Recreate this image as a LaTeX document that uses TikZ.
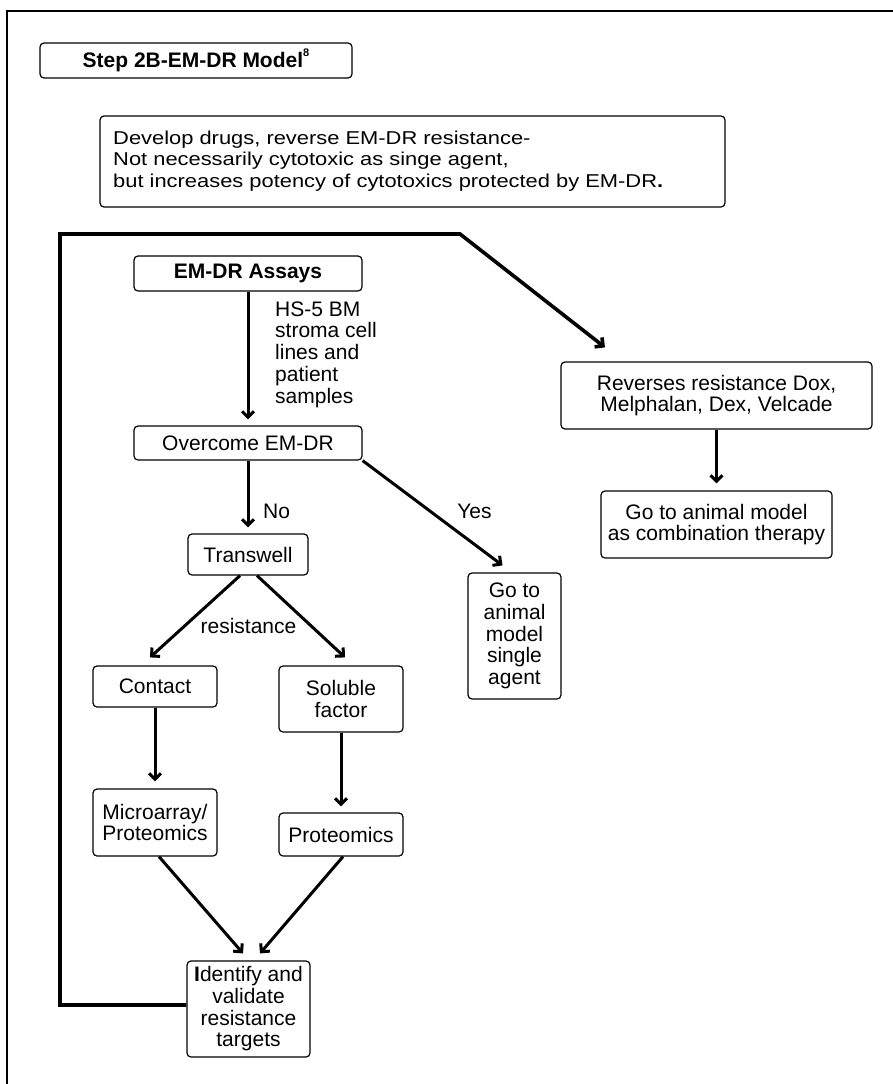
\documentclass[tikz,border=0pt]{standalone}
\usepackage{fontspec}
\usepackage{graphicx}
\setmainfont{Liberation Sans}
\usetikzlibrary{arrows.meta}
\newcommand{\boxfont}{\fontsize{21}{21.7}\selectfont}
\begin{document}
\begin{tikzpicture}[x=1pt,y=-1pt,
        box/.style={draw, rounded corners=4pt, line width=1.2pt, align=center, inner sep=0pt, font=\boxfont},
        arr/.style={line width=3pt, -{Straight Barb[length=6pt,width=12pt]}},
        lbl/.style={inner sep=0pt, align=left, font=\boxfont}]
        \useasboundingbox (0,0) rectangle (893,1084);
        \draw[line width=2pt] (7,1084) -- (7,11) -- (893,11);
        \node[box, minimum width=312pt, minimum height=35pt, font={\boxfont\bfseries}] (title) at (196,60.5) {Step 2B-EM-DR Model\raisebox{0.55em}{\fontsize{11}{11}\selectfont 8}};
        \node[box, minimum width=625pt, minimum height=91pt] (develop) at (412.5,161.5) {};
        \node[inner sep=0pt, anchor=west] (devtext) at (113,161.5) {\fontsize{18.6}{21.5}\selectfont\resizebox{550pt}{\height}{\begin{tabular}{@{}l@{}}Develop drugs, reverse EM-DR resistance-\\Not necessarily cytotoxic as singe agent,\\but increases potency of cytotoxics protected by EM-DR\textbf{.}\end{tabular}}};
        \node[box, minimum width=228pt, minimum height=35pt, font={\boxfont\bfseries}] (assays) at (248,273.5) {EM-DR Assays};
        \node[lbl, anchor=west] (hs5) at (275,354.5) {HS-5 BM\\stroma cell\\lines and\\patient\\samples};
        \node[box, minimum width=228pt, minimum height=34pt] (overcome) at (248,443) {Overcome EM-DR};
        \node[lbl, anchor=west] (no) at (263,511) {No};
        \node[lbl] (yes) at (474.5,511) {Yes};
        \node[box, minimum width=120pt, minimum height=41pt] (transwell) at (248,554.5) {Transwell};
        \node[box, minimum width=93pt, minimum height=126pt] (single) at (514.5,636) {Go to\\animal\\model\\single\\agent};
        \node[lbl] (resist) at (248.5,626) {resistance};
        \node[box, minimum width=124pt, minimum height=41pt] (contact) at (155,686.5) {Contact};
        \node[box, minimum width=124pt, minimum height=66pt] (soluble) at (341,699) {Soluble\\factor};
        \node[box, minimum width=124pt, minimum height=67pt] (micro) at (155,822.5) {Microarray/\\Proteomics};
        \node[box, minimum width=124pt, minimum height=43pt] (proteo) at (341,834.5) {Proteomics};
        \node[box, minimum width=123pt, minimum height=96pt] (identify) at (248.5,1009) {\textbf{I}dentify and\\validate\\resistance\\targets};
        \node[box, minimum width=311pt, minimum height=67pt] (reverses) at (716.5,395.5) {Reverses resistance Dox,\\Melphalan, Dex, Velcade};
        \node[box, minimum width=231pt, minimum height=67pt] (combo) at (716.5,524.5) {Go to animal model\\as combination therapy};
        % arrows
        \draw[arr, shorten >=6pt] (assays) -- (overcome);
        \draw[arr, shorten >=6pt] (overcome) -- (transwell);
        \draw[arr] (overcome.south east) -- ([xshift=-12pt,yshift=7pt]single.north);
        \draw[arr] ([xshift=-8pt]transwell.south) -- ([xshift=-5pt,yshift=8pt]contact.north);
        \draw[arr] ([xshift=9pt]transwell.south) -- ([xshift=4pt,yshift=8pt]soluble.north);
        \draw[arr, shorten >=7pt] (contact) -- (micro);
        \draw[arr, shorten >=6pt] (soluble) -- (proteo);
        \draw[arr] ([xshift=4pt]micro.south) -- ([xshift=-5.5pt,yshift=7pt]identify.north);
        \draw[arr] ([xshift=2pt]proteo.south) -- ([xshift=11.5pt,yshift=7pt]identify.north);
        \draw[arr, shorten >=7pt] (reverses) -- (combo);
        % feedback loop
        \coordinate (loopbl) at (60,1005);
        \coordinate (looptl) at (60,234);
        \coordinate (looptr) at (460,234);
        \draw[arr, line width=3.6pt] ([yshift=4pt]identify.west) -- (loopbl) -- (looptl) -- (looptr) -- ([xshift=-111.5pt,yshift=14pt]reverses.north);
    \end{tikzpicture}
\end{document}
